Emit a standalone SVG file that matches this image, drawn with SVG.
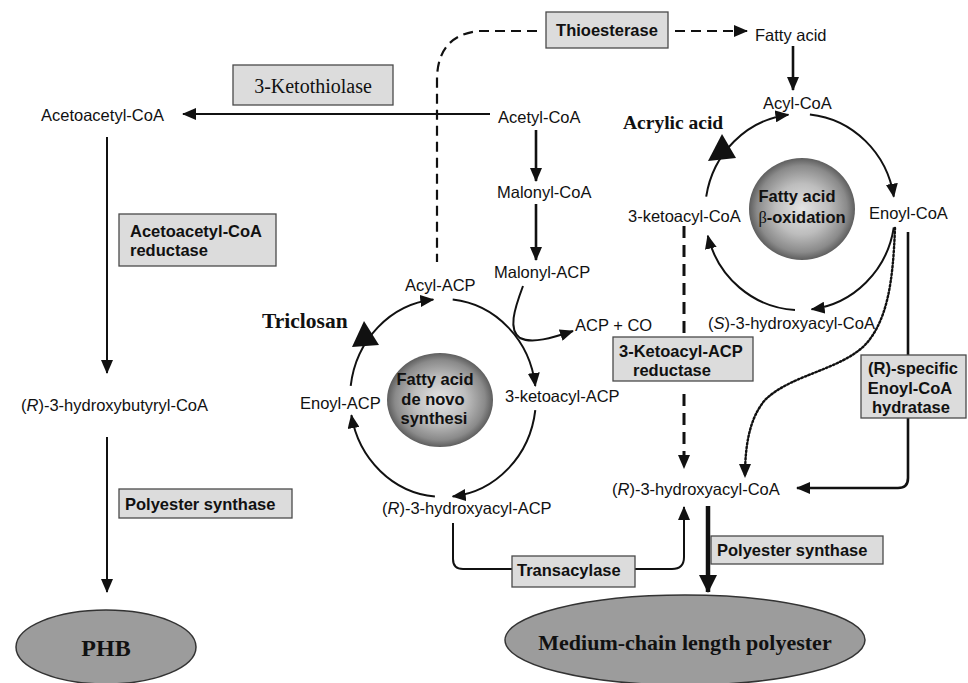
<svg xmlns="http://www.w3.org/2000/svg" width="968" height="683" viewBox="0 0 968 683">
<style>
.t{font-family:"Liberation Sans",Arial,sans-serif;font-size:16.5px;fill:#111}
.b{font-family:"Liberation Sans",Arial,sans-serif;font-size:16.5px;font-weight:bold;fill:#111}
.s{font-family:"Liberation Serif","Times New Roman",serif;fill:#111}
.box{fill:#dcdcdc;stroke:#4a4a4a;stroke-width:1.3}
.ln{fill:none;stroke:#111;stroke-width:2}
.th{fill:none;stroke:#111;stroke-width:2.6}
.ds{fill:none;stroke:#111;stroke-width:2.2;stroke-dasharray:10 6}
.dt{fill:none;stroke:#111;stroke-width:2.4;stroke-dasharray:1.6 2.2;stroke-linecap:round}
.el{fill:#9c9c9c;stroke:#333;stroke-width:1.5}
</style>
<defs>
<marker id="ah" viewBox="0 0 14 12" refX="13" refY="6" markerWidth="14" markerHeight="12" orient="auto" markerUnits="userSpaceOnUse"><path d="M0,0 L14,6 L0,12 Z" fill="#111"/></marker>
<marker id="ahL" viewBox="0 0 18 18" refX="17" refY="9" markerWidth="18" markerHeight="18" orient="auto" markerUnits="userSpaceOnUse"><path d="M0,0 L18,9 L0,18 Z" fill="#111"/></marker>
<radialGradient id="sph" cx="50%" cy="50%" r="50%">
<stop offset="0" stop-color="#e4e4e4"/>
<stop offset="0.5" stop-color="#bdbdbd"/>
<stop offset="0.85" stop-color="#8a8a8a"/>
<stop offset="1" stop-color="#5e5e5e"/>
</radialGradient>
</defs>
<rect width="968" height="683" fill="#fff"/>

<g id="connectors">
<path class="ln" d="M490,114 H183" marker-end="url(#ah)"/>
<path class="ln" d="M107,137 V373" marker-end="url(#ah)"/>
<path class="ln" d="M107,437 V592" marker-end="url(#ah)"/>
<path class="th" d="M536,130 V181" marker-end="url(#ah)"/>
<path class="th" d="M536,204 V260" marker-end="url(#ah)"/>
<path class="ln" d="M523,286 C514,310 508,330 520,338 C532,344 552,338 573,331" marker-end="url(#ah)"/>
<path class="ds" d="M537,31 H478 Q437,36 437,80 V262"/>
<path class="ds" d="M675,31 H747" marker-end="url(#ah)"/>
<path class="th" d="M793,46 V90" marker-end="url(#ah)"/>
<path class="ln" d="M350.7,385.9 A93,99 0 0 1 433.3,299.5" marker-end="url(#ah)"/>
<path class="ln" d="M452.7,299.5 A93,99 0 0 1 535.3,385.9" marker-end="url(#ah)"/>
<path class="ln" d="M535.3,410.1 A93,99 0 0 1 452.7,496.5" marker-end="url(#ah)"/>
<path class="ln" d="M434.9,496.6 A93,99 0 0 1 351.4,415.2" marker-end="url(#ah)"/>
<path class="ln" d="M706.2,196.7 A95,98 0 0 1 788.4,114.7" marker-end="url(#ah)"/>
<path class="ln" d="M809.9,114.5 A95,98 0 0 1 893.8,196.7" marker-end="url(#ah)"/>
<path class="ln" d="M893.8,227.3 A95,98 0 0 1 811.6,309.3" marker-end="url(#ah)"/>
<path class="ln" d="M795,309.9 A95,98 0 0 1 707.8,235.7" marker-end="url(#ah)"/>
<path fill="none" stroke="#111" stroke-width="3" stroke-dasharray="12 7" d="M684,226 V334"/>
<path fill="none" stroke="#111" stroke-width="3" stroke-dasharray="12 7" d="M684,394 V468" marker-end="url(#ah)"/>
<path class="dt" d="M895,228 C893,280 888,320 865,345 C840,370 790,375 765,400 C748,420 745,450 745,477" marker-end="url(#ah)"/>
<path class="th" d="M908,232 V355"/>
<path class="th" d="M908,418 V478 Q908,488 898,488 H797" marker-end="url(#ah)"/>
<path class="ln" d="M453,523 V559 Q453,569 463,569 H512"/>
<path class="ln" d="M635,569 H672 Q684,569 684,557 V507" marker-end="url(#ah)"/>
<path fill="none" stroke="#111" stroke-width="4.5" d="M708,506 V592" marker-end="url(#ahL)"/>
</g>

<g id="ketothiolase"><rect class="box" x="233" y="65" width="160" height="40"/><text class="s" x="313" y="93" font-size="20" text-anchor="middle">3-Ketothiolase</text></g>
<g id="acetoacetyl-coa"><text class="t" x="41" y="121">Acetoacetyl-CoA</text></g>
<g id="acetoacetyl-reductase"><rect class="box" x="119" y="214" width="157" height="52"/><text class="b" x="130" y="237">Acetoacetyl-CoA</text><text class="b" x="130" y="256">reductase</text></g>
<g id="hydroxybutyryl-coa"><text class="t" x="21" y="411">(<tspan font-style="italic">R</tspan>)-3-hydroxybutyryl-CoA</text></g>
<g id="polyester-synthase-1"><rect class="box" x="119" y="489" width="173" height="29"/><text class="b" x="125" y="510">Polyester synthase</text></g>
<g id="phb"><ellipse class="el" cx="106" cy="647" rx="90" ry="37"/><text class="s" x="106" y="656" font-size="24" font-weight="bold" text-anchor="middle">PHB</text></g>

<g id="thioesterase"><rect class="box" x="546" y="12" width="122" height="36"/><text class="b" x="607" y="36" text-anchor="middle">Thioesterase</text></g>
<g id="fatty-acid"><text class="t" x="755" y="41">Fatty acid</text></g>
<g id="acyl-coa"><text class="t" x="763" y="109">Acyl-CoA</text></g>
<g id="acetyl-coa"><text class="t" x="498" y="123">Acetyl-CoA</text></g>
<g id="malonyl-coa"><text class="t" x="497" y="198">Malonyl-CoA</text></g>
<g id="malonyl-acp"><text class="t" x="494" y="278">Malonyl-ACP</text></g>
<g id="acp-co"><text class="t" x="575" y="331">ACP + CO</text></g>

<g id="denovo-sphere"><ellipse cx="440" cy="400" rx="53" ry="47" fill="url(#sph)"/><text class="b" x="435" y="385" text-anchor="middle">Fatty acid</text><text class="b" x="433" y="405" text-anchor="middle">de novo</text><text class="b" x="434" y="424" text-anchor="middle">synthesi</text></g>
<g id="acyl-acp"><text class="t" x="405" y="291">Acyl-ACP</text></g>
<g id="enoyl-acp"><text class="t" x="300" y="409">Enoyl-ACP</text></g>
<g id="ketoacyl-acp"><text class="t" x="505" y="402">3-ketoacyl-ACP</text></g>
<g id="hydroxyacyl-acp"><text class="t" x="382" y="514">(<tspan font-style="italic">R</tspan>)-3-hydroxyacyl-ACP</text></g>
<g id="triclosan"><polygon points="352,347 379,345 364,321" fill="#111"/><text class="s" x="262" y="328" font-size="21.5" font-weight="bold">Triclosan</text></g>

<g id="beta-sphere"><ellipse cx="802" cy="209" rx="53" ry="51" fill="url(#sph)"/><text class="b" x="797" y="202" text-anchor="middle">Fatty acid</text><text class="b" x="802" y="223" text-anchor="middle"><tspan font-family="Liberation Serif" font-weight="normal">β</tspan>-oxidation</text></g>
<g id="acrylic-acid"><polygon points="708,161 736,158 722,134" fill="#111"/><text class="s" x="623" y="129" font-size="19.5" font-weight="bold">Acrylic acid</text></g>
<g id="ketoacyl-coa"><text class="t" x="628" y="222">3-ketoacyl-CoA</text></g>
<g id="enoyl-coa"><text class="t" x="869" y="219">Enoyl-CoA</text></g>
<g id="s-hydroxyacyl-coa"><text class="t" x="708" y="329">(<tspan font-style="italic">S</tspan>)-3-hydroxyacyl-CoA</text></g>
<g id="ketoacyl-acp-reductase"><rect class="box" x="613" y="337" width="140" height="44"/><text class="b" x="619" y="357">3-Ketoacyl-ACP</text><text class="b" x="633" y="376">reductase</text></g>
<g id="r-hydratase"><rect class="box" x="861" y="355" width="105" height="63"/><text class="b" x="913" y="374" text-anchor="middle">(R)-specific</text><text class="b" x="910" y="394" text-anchor="middle">Enoyl-CoA</text><text class="b" x="911" y="413" text-anchor="middle">hydratase</text></g>
<g id="r-hydroxyacyl-coa"><text class="t" x="612" y="495">(<tspan font-style="italic">R</tspan>)-3-hydroxyacyl-CoA</text></g>
<g id="transacylase"><rect class="box" x="512" y="556" width="123" height="31"/><text class="b" x="517" y="576">Transacylase</text></g>
<g id="polyester-synthase-2"><rect class="box" x="711" y="536" width="172" height="28"/><text class="b" x="717" y="556">Polyester synthase</text></g>
<g id="mcl-polyester"><ellipse class="el" cx="685" cy="640" rx="180" ry="45"/><text class="s" x="685" y="650" font-size="22" font-weight="bold" text-anchor="middle">Medium-chain length polyester</text></g>
</svg>
